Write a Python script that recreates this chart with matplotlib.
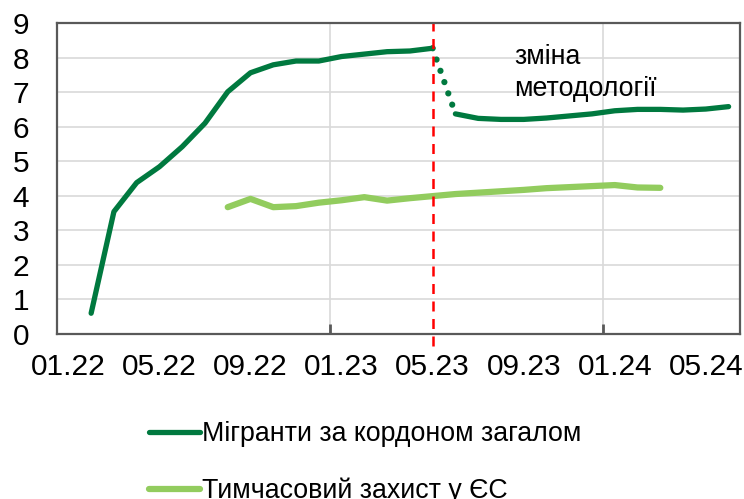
import numpy as np
import matplotlib.pyplot as plt

plt.rcParams['font.family'] = ['Liberation Sans', 'DejaVu Sans']

# months counted from 01.2022 (index 0)
tick_labels = ['01.22', '05.22', '09.22', '01.23', '05.23', '09.23', '01.24', '05.24']
tick_months = [0, 4, 8, 12, 16, 20, 24, 28]

# migrants abroad, old methodology (02.2022 - 05.2023), mln
migr_old_start = 1
migr_old = [0.60, 3.54, 4.38, 4.84, 5.42, 6.10, 7.01, 7.56, 7.79, 7.90,
            7.90, 8.03, 8.10, 8.17, 8.19, 8.27]
# migrants abroad, new methodology (06.2023 - 06.2024)
migr_new_start = 17
migr_new = [6.37, 6.24, 6.21, 6.21, 6.25, 6.31, 6.37, 6.46, 6.50, 6.50,
            6.48, 6.51, 6.58]
# temporary protection in the EU (08.2022 - 03.2024)
prot_start = 7
prot = [3.67, 3.91, 3.67, 3.70, 3.80, 3.87, 3.96, 3.86, 3.93, 3.99,
        4.05, 4.09, 4.13, 4.17, 4.22, 4.25, 4.28, 4.31, 4.24, 4.23]

break_month = 16

dark = '#00793F'
light = '#92CC5E'

def xs(start, vals):
    return np.arange(start, start + len(vals)) + 0.5

fig = plt.figure(figsize=(7.44, 4.99), dpi=100)
ax = fig.add_axes([0.0766, 0.3307, 0.918, 0.6232])

ax.set_xlim(0, 30)
ax.set_ylim(0, 9)

# gridlines
ax.set_yticks(range(10))
ax.yaxis.grid(True, color='#D9D9D9', lw=1.2)
ax.set_xticks(np.array(tick_months) + 0.5)
ax.set_xticklabels(tick_labels)
ax.set_xticks([12, 24], minor=True)
ax.xaxis.grid(True, which='minor', color='#D9D9D9', lw=1.2)
ax.set_axisbelow(True)

ax.tick_params(axis='x', which='major', length=0, pad=14, labelsize=21.5)
ax.tick_params(axis='x', which='minor', length=7, width=2, direction='in', color='#595959')
ax.tick_params(axis='y', length=0, pad=20, labelsize=21.5)
for s in ax.spines.values():
    s.set_color('#595959')
    s.set_linewidth(1.6)

ax.plot(xs(migr_old_start, migr_old), migr_old, color=dark, lw=3.8,
        solid_capstyle='round', solid_joinstyle='round',
        label='Мігранти за кордоном загалом')
ax.plot(xs(migr_new_start, migr_new), migr_new, color=dark, lw=3.8,
        solid_capstyle='round', solid_joinstyle='round')
# transition between methodologies
ax.plot([break_month + 0.5, migr_new_start + 0.5], [migr_old[-1], migr_new[0]],
        color=dark, lw=4.5, linestyle=(0, (0.01, 1.9)), dash_capstyle='round')
ax.plot(xs(prot_start, prot), prot, color=light, lw=4.5,
        solid_capstyle='round', solid_joinstyle='round',
        label='Тимчасовий захист у ЄС')

ax.axvline(break_month + 0.5, ymin=-0.04, ymax=1, color='#FF0000', lw=1.8,
           linestyle=(0, (4, 3)), clip_on=False)

ax.text(20.1, 7.55, 'зміна\nметодології', fontsize=19.3, ha='left', va='center',
        linespacing=1.3)

fig.legend(loc='upper left', bbox_to_anchor=(0.2, 0.156), frameon=False,
           fontsize=19.3, handlelength=1.9, handletextpad=0.1,
           labelspacing=1.15, borderpad=0, borderaxespad=0)

fig.savefig('out.png', dpi=100)
